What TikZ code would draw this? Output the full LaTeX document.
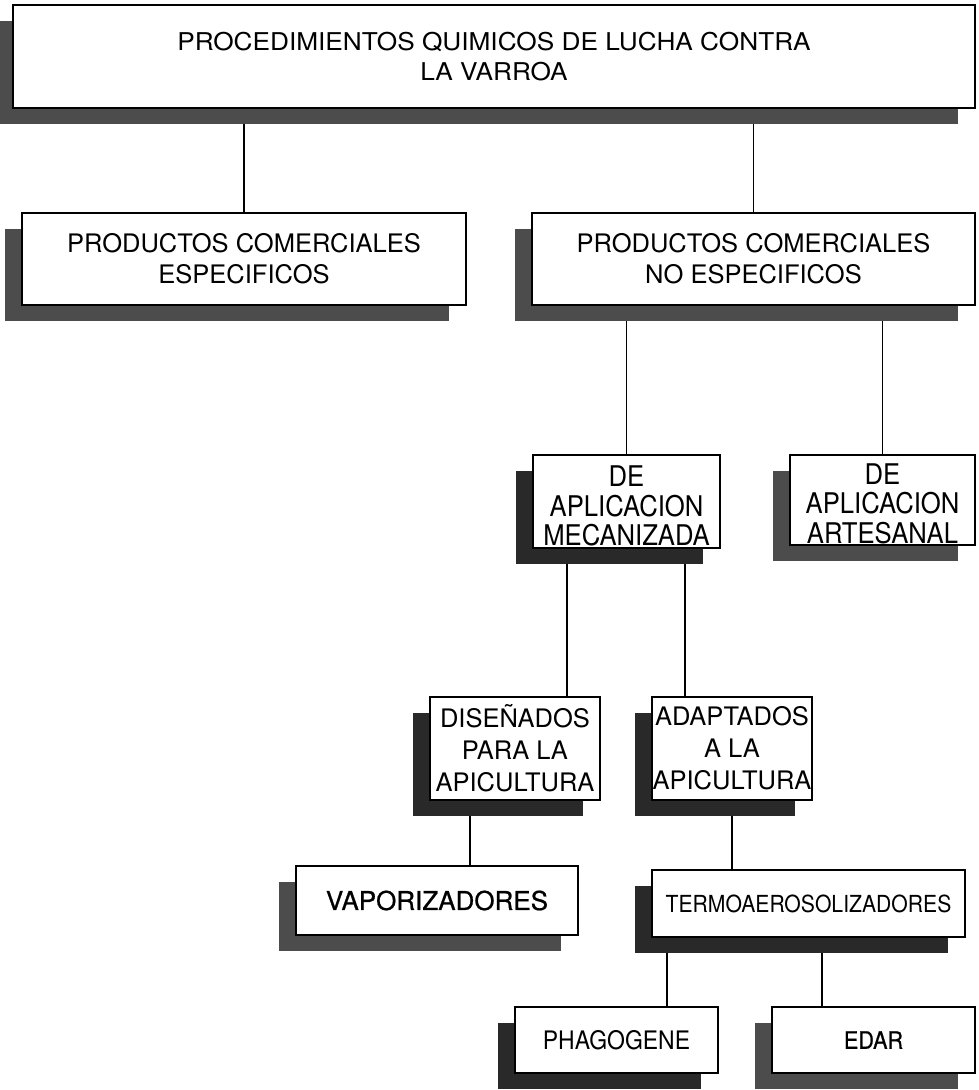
\documentclass[tikz,border=0pt]{standalone}
\usepackage{fontspec}
\setmainfont{TeX Gyre Heros}
\newfontfamily\widefont[FakeStretch=1.07]{TeX Gyre Heros}
\newfontfamily\narrowfont[FakeStretch=0.9]{TeX Gyre Heros}
\newfontfamily\heavyfont[FakeBold=0.7]{TeX Gyre Heros}
\newfontfamily\heavynarrowfont[FakeBold=0.7,FakeStretch=0.9]{TeX Gyre Heros}
\usepackage{tikz}
\usetikzlibrary{shadows}
\usetikzlibrary{positioning}
\pgfdeclarelayer{background}
\pgfsetlayers{background,main}
\definecolor{shadowdark}{gray}{0.16}
\definecolor{shadowgrey}{gray}{0.30}
\tikzset{box/.style={rectangle, draw=black, line width=1.2pt, fill=white, align=center, inner sep=0pt,
    general shadow={shadow xshift=-17pt, shadow yshift=-16pt, fill=#1}},
  box/.default=shadowdark}
\tikzstyle{link} = [line width=1.2pt]

\begin{document}
\begin{tikzpicture}[x=1pt, y=-1pt, font=\fontsize{25.5}{31}\selectfont]

  \useasboundingbox (0,0) rectangle (978,1090);

  % level 1
  \node[box=shadowgrey, minimum width=962pt, minimum height=103pt, font=\widefont\fontsize{24.5}{30}\selectfont] (proc) at (494,56.5)
    {PROCEDIMIENTOS QUIMICOS DE LUCHA CONTRA\\LA VARROA};

  % level 2
  \node[box=shadowgrey, minimum width=444pt, minimum height=92pt] (espec) at (244,259)
    {PRODUCTOS COMERCIALES\\ESPECIFICOS};
  \node[box=shadowgrey, minimum width=443pt, minimum height=92pt] (noesp) at (753.5,259)
    {PRODUCTOS COMERCIALES\\NO ESPECIFICOS};

  % level 3 (text a little low in its box)
  \node[box, minimum width=187pt, minimum height=93pt, text height=88pt, text depth=0pt, font=\narrowfont\fontsize{28.5}{29.5}\selectfont] (mecan) at (626.5,501.5)
    {DE\\APLICACION\\MECANIZADA};
  \node[box=shadowgrey, minimum width=185pt, minimum height=90pt, text height=86pt, text depth=0pt, font=\narrowfont\fontsize{28.5}{29.5}\selectfont] (artes) at (882.5,500)
    {DE\\APLICACION\\ARTESANAL};

  % level 4
  \node[box, minimum width=170pt, minimum height=103pt, font=\fontsize{25.5}{32}\selectfont] (disen) at (515,748.5)
    {DISEÑADOS\\PARA LA\\APICULTURA};
  \node[box, minimum width=160pt, minimum height=103pt, font=\fontsize{25.5}{32}\selectfont] (adapt) at (732,748.5)
    {ADAPTADOS\\A LA\\APICULTURA};

  % level 5
  \node[box=shadowgrey, minimum width=282pt, minimum height=69pt, font=\heavyfont\fontsize{26}{30}\selectfont] (vapor) at (437,900.5)
    {VAPORIZADORES};
  \node[box, minimum width=313pt, minimum height=67pt, font=\narrowfont\fontsize{23.5}{28}\selectfont] (termo) at (808.5,903.5)
    {TERMOAEROSOLIZADORES};

  % level 6
  \node[box, minimum width=203pt, minimum height=66pt, font=\narrowfont\fontsize{25.5}{30}\selectfont] (phago) at (616.5,1040)
    {PHAGOGENE};
  \node[box=shadowgrey, minimum width=203pt, minimum height=66pt, font=\heavynarrowfont\fontsize{24}{30}\selectfont] (edar) at (873.5,1040)
    {EDAR};

  % connectors, behind the shadows
  \begin{pgfonlayer}{background}
    \draw[link] (proc.south -| espec.north) -- (espec.north);
    \draw[link] (proc.south -| noesp.north) -- (noesp.north);
    \draw[link] (noesp.south -| mecan.north) -- (mecan.north);
    \draw[link] (noesp.south -| artes.north) -- (artes.north);
    \draw[link] (567,0 |- mecan.south) -- (567,0 |- disen.north);
    \draw[link] (685,0 |- mecan.south) -- (685,0 |- adapt.north);
    \draw[link] (470,0 |- disen.south) -- (470,0 |- vapor.north);
    \draw[link] (adapt.south) -- (adapt.south |- termo.north);
    \draw[link] (667,0 |- termo.south) -- (667,0 |- phago.north);
    \draw[link] (822,0 |- termo.south) -- (822,0 |- edar.north);
  \end{pgfonlayer}

\end{tikzpicture}
\end{document}
